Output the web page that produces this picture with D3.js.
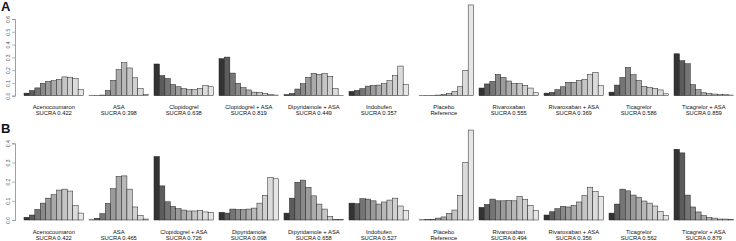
<!DOCTYPE html>
<html lang="en">
<head>
  <meta charset="utf-8">
  <title>Rank probabilities</title>
  <script src="https://d3js.org/d3.v7.min.js"></script>
  <style>
    body { margin: 0; background: #fff; }
    svg { display: block; font-family: 'Liberation Sans', Arial, sans-serif; }
    .name { font-size: 5.8px; fill: #111; text-anchor: middle; }
    .tick text { font-size: 5px; fill: #555; }
    .panel { font-size: 13px; font-weight: bold; fill: #111; }
  </style>
</head>
<body>
<div id="chart"></div>
<script>
  // Treatments and SUCRA labels, panel A
  var namesA = ["Acenocoumaron", "ASA", "Clopidogrel", "Clopidogrel + ASA", "Dipyridamole + ASA",
    "Indobufen", "Placebo", "Rivaroxaban", "Rivaroxaban + ASA", "Ticagrelor", "Ticagrelor + ASA"];
  var sucraA = ["SUCRA 0.422", "SUCRA 0.398", "SUCRA 0.638", "SUCRA 0.819", "SUCRA 0.449",
    "SUCRA 0.357", "Reference", "SUCRA 0.555", "SUCRA 0.369", "SUCRA 0.586", "SUCRA 0.859"];
  // rank probabilities (rank 1..11) per treatment, panel A
  var probsA = [
    [0.02, 0.04, 0.061, 0.097, 0.112, 0.117, 0.127, 0.147, 0.142, 0.135, 0.049],
    [0.001, 0.002, 0.005, 0.041, 0.12, 0.203, 0.258, 0.217, 0.14, 0.055, 0.01],
    [0.248, 0.157, 0.135, 0.088, 0.07, 0.055, 0.047, 0.047, 0.057, 0.08, 0.07],
    [0.29, 0.302, 0.177, 0.097, 0.063, 0.045, 0.028, 0.026, 0.018, 0.01, 0.005],
    [0.008, 0.018, 0.052, 0.094, 0.143, 0.175, 0.167, 0.172, 0.152, 0.055, 0.003],
    [0.034, 0.042, 0.055, 0.075, 0.08, 0.083, 0.094, 0.117, 0.157, 0.232, 0.086],
    [0.0, 0.001, 0.002, 0.003, 0.005, 0.01, 0.018, 0.034, 0.07, 0.198, 0.71],
    [0.06, 0.092, 0.112, 0.167, 0.143, 0.115, 0.094, 0.094, 0.08, 0.06, 0.023],
    [0.02, 0.026, 0.047, 0.07, 0.105, 0.105, 0.12, 0.128, 0.165, 0.183, 0.078],
    [0.028, 0.083, 0.143, 0.222, 0.165, 0.12, 0.073, 0.065, 0.057, 0.045, 0.015],
    [0.328, 0.274, 0.25, 0.086, 0.047, 0.023, 0.018, 0.013, 0.01, 0.008, 0.005]
  ];

  // Treatments and SUCRA labels, panel B
  var namesB = ["Acenocoumaron", "ASA", "Clopidogrel + ASA", "Dipyridamole", "Dipyridamole + ASA",
    "Indobufen", "Placebo", "Rivaroxaban", "Rivaroxaban + ASA", "Ticagrelor", "Ticagrelor + ASA"];
  var sucraB = ["SUCRA 0.422", "SUCRA 0.465", "SUCRA 0.726", "SUCRA 0.098", "SUCRA 0.658",
    "SUCRA 0.527", "Reference", "SUCRA 0.494", "SUCRA 0.356", "SUCRA 0.562", "SUCRA 0.879"];
  var probsB = [
    [0.014, 0.026, 0.055, 0.088, 0.114, 0.132, 0.156, 0.161, 0.151, 0.076, 0.036],
    [0.001, 0.009, 0.033, 0.087, 0.163, 0.227, 0.23, 0.161, 0.068, 0.024, 0.005],
    [0.331, 0.178, 0.095, 0.071, 0.059, 0.052, 0.047, 0.047, 0.05, 0.042, 0.04],
    [0.04, 0.036, 0.057, 0.054, 0.055, 0.057, 0.062, 0.088, 0.128, 0.222, 0.215],
    [0.036, 0.114, 0.197, 0.208, 0.17, 0.126, 0.083, 0.057, 0.019, 0.003, 0.002],
    [0.088, 0.085, 0.111, 0.109, 0.1, 0.083, 0.094, 0.104, 0.114, 0.073, 0.05],
    [0.0, 0.001, 0.002, 0.003, 0.01, 0.016, 0.035, 0.052, 0.128, 0.301, 0.469],
    [0.066, 0.081, 0.109, 0.1, 0.1, 0.102, 0.1, 0.123, 0.107, 0.076, 0.05],
    [0.026, 0.043, 0.059, 0.071, 0.068, 0.076, 0.094, 0.128, 0.171, 0.149, 0.123],
    [0.036, 0.083, 0.161, 0.152, 0.13, 0.119, 0.099, 0.088, 0.073, 0.045, 0.023],
    [0.369, 0.35, 0.13, 0.068, 0.042, 0.023, 0.014, 0.01, 0.005, 0.005, 0.002]
  ];

  var ticksA = [0, 0.1, 0.2, 0.3, 0.4, 0.5, 0.6];
  var ticksB = [0, 0.1, 0.2, 0.3, 0.4];
  var ranks = d3.range(1, 12);

  var W = 736, H = 241;
  var svg = d3.select("#chart").append("svg").attr("width", W).attr("height", H);

  // gamma-corrected grey ramp like R's gray.colors
  function grey(i) {
    var g = 2.2, s = Math.pow(0.2, g), e = Math.pow(0.9, g);
    var v = Math.round(Math.pow(s + (e - s) * i / 10, 1 / g) * 255);
    return d3.rgb(v, v, v).toString();
  }

  function panel(letter, names, sucra, probs, ticks, y0, y1, yMax, letterY) {
    var x = d3.scaleBand().domain(names).range([24, 733.6]).paddingInner(1 / 12).paddingOuter(0);
    var xr = d3.scaleBand().domain(ranks).range([0, x.bandwidth()]);
    var y = d3.scaleLinear().domain([0, yMax]).range([y0, y1]);

    svg.append("text").attr("class", "panel").attr("x", 1).attr("y", letterY).text(letter);

    var ax = svg.append("g")
      .attr("transform", "translate(15,0)")
      .call(d3.axisLeft(y).tickValues(ticks).tickSize(3).tickFormat(d3.format(".1f")));
    ax.select(".domain").attr("stroke", "#888").attr("stroke-width", 0.8);
    ax.selectAll(".tick line").attr("stroke", "#888").attr("stroke-width", 0.6);
    // rotated tick labels, reading upwards
    ax.selectAll(".tick text")
      .attr("text-anchor", "middle")
      .attr("x", 0).attr("y", 0).attr("dy", "0.35em")
      .attr("transform", "translate(-7,0) rotate(-90)");

    var g = svg.selectAll(".grp" + letter).data(names).enter().append("g")
      .attr("transform", function (d) { return "translate(" + x(d) + ",0)"; });

    g.selectAll("rect").data(function (d, i) { return probs[i]; }).enter().append("rect")
      .attr("x", function (d, j) { return xr(ranks[j]); })
      .attr("width", xr.bandwidth())
      .attr("y", function (d) { return y(d); })
      .attr("height", function (d) { return y0 - y(d); })
      .attr("fill", function (d, j) { return grey(j); })
      .attr("stroke", "#222")
      .attr("stroke-width", 0.5);

    g.append("text").attr("class", "name")
      .attr("x", x.bandwidth() / 2).attr("y", y0 + 13.5)
      .text(function (d) { return d; });
    g.append("text").attr("class", "name")
      .attr("x", x.bandwidth() / 2).attr("y", y0 + 19.5)
      .text(function (d, i) { return sucra[i]; });
  }

  panel("A", namesA, sucraA, probsA, ticksA, 95.7, 19, 0.6, 11);
  panel("B", namesB, sucraB, probsB, ticksB, 220, 143.3, 0.4, 133);
</script>
</body>
</html>
